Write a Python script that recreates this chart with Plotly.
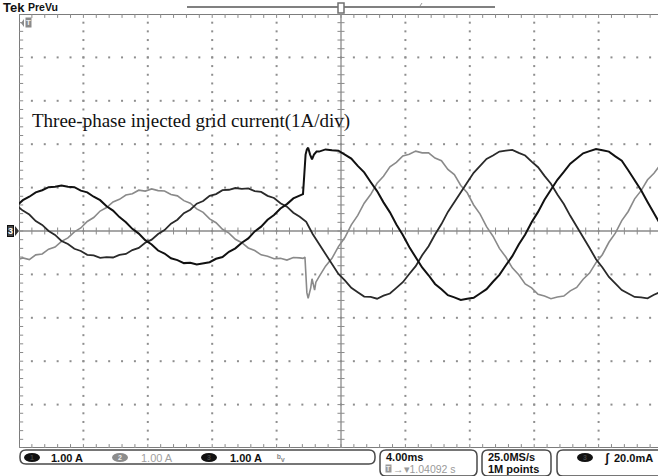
import numpy as np
import plotly.graph_objects as go

# ---------------- data (screen divisions: 1 div = 1 A vertically, 4 ms horizontally) ----------------
time_div = [-0.04, 0.06, 0.16, 0.26, 0.36, 0.46, 0.56, 0.66, 0.76, 0.86,
            0.96, 1.06, 1.16, 1.26, 1.36, 1.46, 1.56, 1.66, 1.76, 1.86,
            1.96, 2.06, 2.16, 2.26, 2.36, 2.46, 2.56, 2.66, 2.76, 2.86,
            2.96, 3.06, 3.16, 3.26, 3.36, 3.46, 3.56, 3.66, 3.76, 3.86,
            3.96, 4.06, 4.16, 4.26, 4.36, 4.46, 4.56, 4.66, 4.76, 4.86,
            4.96, 5.06, 5.16, 5.26, 5.36, 5.46, 5.56, 5.66, 5.76, 5.86,
            5.96, 6.06, 6.16, 6.26, 6.36, 6.46, 6.56, 6.66, 6.76, 6.86,
            6.96, 7.06, 7.16, 7.26, 7.36, 7.46, 7.56, 7.66, 7.76, 7.86,
            7.96, 8.06, 8.16, 8.26, 8.36, 8.46, 8.56, 8.66, 8.76, 8.86,
            8.96, 9.06, 9.16, 9.26, 9.36, 9.46, 9.56, 9.66, 9.76, 9.86,
            9.96]

# channel 1 (black): before step (samples 0..44), step transient, after step (samples 47..100)
ch1_pre = [0.58, 0.71, 0.79, 0.89, 0.94, 1.01, 1.02, 1.05, 1.02, 1.01,
           0.93, 0.89, 0.79, 0.71, 0.57, 0.47, 0.32, 0.20, 0.05, -0.06,
           -0.21, -0.31, -0.45, -0.52, -0.63, -0.67, -0.74, -0.73, -0.77, -0.74,
           -0.72, -0.64, -0.60, -0.48, -0.40, -0.27, -0.17, -0.01, 0.10, 0.26,
           0.37, 0.52, 0.62, 0.75, 0.82]
ch1_step_t = [4.41, 4.43, 4.45, 4.47, 4.49, 4.52, 4.55, 4.58, 4.62]
ch1_step_v = [0.85, 1.30, 1.76, 1.88, 1.92, 1.76, 1.65, 1.76, 1.83]
ch1_post = [1.83, 1.88, 1.86, 1.85, 1.76, 1.67, 1.50, 1.35, 1.13, 0.92,
            0.66, 0.43, 0.15, -0.09, -0.37, -0.59, -0.84, -1.02, -1.22, -1.34,
            -1.48, -1.53, -1.59, -1.56, -1.54, -1.44, -1.34, -1.17, -1.01, -0.79,
            -0.58, -0.31, -0.08, 0.20, 0.44, 0.72, 0.94, 1.18, 1.36, 1.55,
            1.67, 1.79, 1.84, 1.89, 1.86, 1.83, 1.72, 1.62, 1.40, 1.18,
            0.94, 0.67, 0.40, 0.15]

# channel 2 (grey)
ch2_pre = [-0.67, -0.62, -0.66, -0.55, -0.53, -0.42, -0.37, -0.24, -0.16, -0.02,
           0.07, 0.22, 0.31, 0.46, 0.54, 0.67, 0.73, 0.83, 0.86, 0.94,
           0.92, 0.97, 0.93, 0.92, 0.84, 0.81, 0.70, 0.64, 0.51, 0.43,
           0.28, 0.19, 0.04, -0.05, -0.19, -0.27, -0.39, -0.45, -0.55, -0.58,
           -0.64, -0.63, -0.67, -0.61, -0.62]
ch2_step_t = [4.41, 4.44, 4.45, 4.47, 4.49, 4.50, 4.53, 4.55, 4.57, 4.59, 4.61, 4.64]
ch2_step_v = [-0.63, -0.60, -0.92, -1.42, -1.55, -1.50, -1.31, -1.10, -1.28, -1.36, -1.18, -1.08]
ch2_post = [-1.05, -0.81, -0.63, -0.36, -0.15, 0.14, 0.36, 0.64, 0.84, 1.10,
            1.26, 1.48, 1.58, 1.73, 1.77, 1.84, 1.80, 1.80, 1.68, 1.62,
            1.42, 1.30, 1.05, 0.88, 0.60, 0.39, 0.10, -0.12, -0.40, -0.60,
            -0.85, -1.01, -1.22, -1.31, -1.46, -1.50, -1.56, -1.52, -1.50, -1.38,
            -1.30, -1.11, -0.97, -0.73, -0.54, -0.26, -0.05, 0.24, 0.45, 0.74,
            0.93, 1.18, 1.33, 1.53]

# channel 3 (dark): samples 0..44 before step, 45..100 after
ch3_pre = [0.59, 0.47, 0.38, 0.23, 0.14, 0.00, -0.09, -0.23, -0.30, -0.41,
           -0.46, -0.55, -0.56, -0.62, -0.60, -0.61, -0.55, -0.53, -0.44, -0.39,
           -0.27, -0.20, -0.07, 0.02, 0.17, 0.26, 0.41, 0.49, 0.63, 0.69,
           0.81, 0.85, 0.94, 0.95, 0.99, 0.97, 0.98, 0.92, 0.90, 0.81,
           0.76, 0.64, 0.56, 0.42, 0.33]
ch3_post = [0.21, -0.07, -0.30, -0.56, -0.76, -0.99, -1.14, -1.31, -1.41, -1.51,
            -1.52, -1.56, -1.49, -1.44, -1.31, -1.18, -0.99, -0.81, -0.56, -0.35,
            -0.08, 0.16, 0.44, 0.67, 0.92, 1.12, 1.34, 1.49, 1.66, 1.74,
            1.83, 1.85, 1.87, 1.80, 1.74, 1.60, 1.47, 1.27, 1.09, 0.84,
            0.62, 0.35, 0.11, -0.16, -0.39, -0.65, -0.84, -1.06, -1.20, -1.36,
            -1.44, -1.52, -1.53, -1.55, -1.47, -1.40]

title_text = "Three-phase injected grid current(1A/div)"
channel_scales = ["1.00 A", "1.00 A", "1.00 A"]
timebase_text = "4.00ms"
trigger_pos_text = "\u2192\u25be1.04092 s"
sample_rate_text = "25.0MS/s"
record_len_text = "1M points"
trigger_level_text = "20.0mA"

# ---------------- assemble series ----------------
ch1_t = time_div[:45] + ch1_step_t + time_div[47:]
ch1_v = ch1_pre + ch1_step_v + ch1_post
ch2_t = time_div[:45] + ch2_step_t + time_div[47:]
ch2_v = ch2_pre + ch2_step_v + ch2_post
ch3_t = time_div
ch3_v = ch3_pre + ch3_post

# ---------------- geometry (window pixels) ----------------
SW, SH = 658, 476
PL, PT, PR, PB = 19, 14, 658, 448   # plot area in window pixels
DIVX = 64.4
XMAX = (PR - PL) / DIVX
SANS = "Liberation Sans, Arial, sans-serif"
SERIF = "Liberation Serif, Times New Roman, serif"


def px(x):
    return (x - PL) / (PR - PL)


def py(y):
    return (PB - y) / (PB - PT)


fig = go.Figure()

# graticule dots
gx, gy = [], []
for yl in [-5, -4, -3, -2, -1, 1, 2, 3, 4]:
    for xv in np.arange(0, 10.001, 0.2):
        gx.append(xv)
        gy.append(yl)
for xl in [1, 2, 3, 4, 6, 7, 8, 9]:
    for yv in np.arange(-5, 5.001, 0.2):
        gx.append(xl)
        gy.append(yv)
fig.add_trace(go.Scatter(x=gx, y=gy, mode="markers", hoverinfo="skip",
                         marker=dict(size=2, color="#8e8e8e", symbol="square", line=dict(width=0))))

# tick marks on centre lines and border
tx, ty = [], []
for xv in np.arange(0, 10.001, 0.2):
    tx += [xv, xv, None]; ty += [-0.08, 0.08, None]          # centre horizontal
    tx += [xv, xv, None]; ty += [5, 4.91, None]              # top border
    tx += [xv, xv, None]; ty += [-5, -4.91, None]            # bottom border
for yv in np.arange(-5, 5.001, 0.2):
    tx += [4.945, 5.055, None]; ty += [yv, yv, None]         # centre vertical
    tx += [0, 0.065, None]; ty += [yv, yv, None]             # left border
fig.add_trace(go.Scatter(x=tx, y=ty, mode="lines", hoverinfo="skip",
                         line=dict(color="#8a8a8a", width=1)))

# waveforms
fig.add_trace(go.Scatter(x=ch2_t, y=ch2_v, mode="lines", name="CH2",
                         line=dict(color="#8a8a8a", width=1.6)))
fig.add_trace(go.Scatter(x=ch3_t, y=ch3_v, mode="lines", name="CH3",
                         line=dict(color="#2a2a2a", width=1.8)))
fig.add_trace(go.Scatter(x=ch1_t, y=ch1_v, mode="lines", name="CH1",
                         line=dict(color="#111111", width=2)))

shapes = []
grey = "#7c7c7c"
# border and centre lines
shapes.append(dict(type="line", xref="x", yref="y", x0=0, x1=10, y0=5, y1=5, line=dict(color=grey, width=2), layer="below"))
shapes.append(dict(type="line", xref="x", yref="y", x0=0, x1=10, y0=-5, y1=-5, line=dict(color=grey, width=2), layer="below"))
shapes.append(dict(type="line", xref="x", yref="y", x0=0, x1=0, y0=-5, y1=5, line=dict(color=grey, width=2), layer="below"))
shapes.append(dict(type="line", xref="x", yref="y", x0=0, x1=10, y0=0, y1=0, line=dict(color="#8a8a8a", width=1.3), layer="below"))
shapes.append(dict(type="line", xref="x", yref="y", x0=5, x1=5, y0=-5, y1=5, line=dict(color="#8a8a8a", width=1.3), layer="below"))

# header record bar
shapes.append(dict(type="line", xref="paper", yref="paper", x0=px(187), x1=px(495), y0=py(7), y1=py(7),
                   line=dict(color="#808080", width=2)))
shapes.append(dict(type="rect", xref="paper", yref="paper", x0=px(338), x1=px(344), y0=py(3), y1=py(13),
                   line=dict(color="#707070", width=1.5), fillcolor="white"))
shapes.append(dict(type="line", xref="paper", yref="paper", x0=px(420), x1=px(422), y0=py(6), y1=py(3),
                   line=dict(color="#9a9a9a", width=1)))


def rrect(x0, y0, x1, y1, r):
    X, Y = px, py
    return (f"M {X(x0 + r)},{Y(y0)} L {X(x1 - r)},{Y(y0)} Q {X(x1)},{Y(y0)} {X(x1)},{Y(y0 + r)} "
            f"L {X(x1)},{Y(y1 - r)} Q {X(x1)},{Y(y1)} {X(x1 - r)},{Y(y1)} L {X(x0 + r)},{Y(y1)} "
            f"Q {X(x0)},{Y(y1)} {X(x0)},{Y(y1 - r)} L {X(x0)},{Y(y0 + r)} Q {X(x0)},{Y(y0)} {X(x0 + r)},{Y(y0)} Z")


for (a, b, c, d) in [(20, 450, 375, 464), (380, 450, 477, 476), (482, 450, 551, 476), (557, 450, 664, 476)]:
    shapes.append(dict(type="path", xref="paper", yref="paper", path=rrect(a, b, c, d, 6),
                       line=dict(color="#4a4a4a", width=1.5)))

# channel badges
for (a, c, col) in [(24, 40, "#111111"), (112, 128, "#8c8c8c"), (201, 217, "#111111"), (577, 593, "#111111")]:
    shapes.append(dict(type="circle", xref="paper", yref="paper", x0=px(a), x1=px(c), y0=py(453), y1=py(462),
                       fillcolor=col, line=dict(color=col, width=0)))

# trigger "T" icon tip and channel-3 ground arrow
shapes.append(dict(type="path", xref="paper", yref="paper",
                   path=f"M {px(21)},{py(23)} L {px(24)},{py(19)} L {px(24)},{py(27)} Z",
                   fillcolor="#8a8a8a", line=dict(width=0)))
shapes.append(dict(type="path", xref="paper", yref="paper",
                   path=f"M {px(19)},{py(231)} L {px(15)},{py(226)} L {px(15)},{py(236)} Z",
                   fillcolor="#333333", line=dict(width=0)))


def ann(text, x, y, size=11, color="#111111", bold=True, family=SANS, xanchor="left", bg=None, border=None):
    d = dict(text=f"<b>{text}</b>" if bold else text, x=px(x), y=py(y), xref="paper", yref="paper",
             xanchor=xanchor, yanchor="middle", showarrow=False,
             font=dict(size=size, color=color, family=family), borderpad=0)
    if bg:
        d["bgcolor"] = bg
    if border:
        d["bordercolor"] = border
        d["borderwidth"] = 1
    return d


annotations = [
    ann("Tek", 2, 8, size=13, color="#111111"),
    ann("PreVu", 27, 7, size=10.5, color="#111111"),
    ann(title_text, 31, 121, size=19, color="#111111", bold=False, family=SERIF),
    ann("T", 28, 23, size=8, color="#eeeeee", xanchor="center", bg="#8a8a8a"),
    ann("3", 10, 231, size=9, color="#ffffff", xanchor="center", bg="#444444", border="#111111"),
    ann("1", 32, 457.5, size=7, color="#444444", xanchor="center"),
    ann(channel_scales[0], 50, 457.5, size=11, color="#111111"),
    ann("2", 120, 457.5, size=7, color="#f0f0f0", xanchor="center"),
    ann(channel_scales[1], 140, 457.5, size=11, color="#a0a0a0", bold=False),
    ann("3", 209, 457.5, size=7, color="#444444", xanchor="center"),
    ann(channel_scales[2], 229, 457.5, size=11, color="#111111"),
    ann("ᵇᵥ", 276, 457, size=10, color="#888888"),
    ann(timebase_text, 385, 457, size=11, color="#111111"),
    ann("T", 388, 468.5, size=7, color="#f0f0f0", xanchor="center", bg="#9a9a9a"),
    ann(trigger_pos_text, 392, 468.5, size=10.5, color="#9a9a9a", bold=False),
    ann(sample_rate_text, 487, 457, size=11, color="#111111"),
    ann(record_len_text, 487, 469, size=11, color="#111111"),
    ann("3", 585, 457.5, size=7, color="#444444", xanchor="center"),
    ann("ʃ", 603, 457.5, size=12, color="#111111"),
    ann(trigger_level_text, 613, 457.5, size=11, color="#111111"),
]

fig.update_layout(
    width=SW, height=SH,
    margin=dict(l=PL, r=SW - PR, t=PT, b=SH - PB, pad=0),
    paper_bgcolor="white", plot_bgcolor="white",
    showlegend=False,
    xaxis=dict(range=[0, XMAX], showgrid=False, zeroline=False, showticklabels=False,
               ticks="", showline=False, fixedrange=True),
    yaxis=dict(range=[-5, 5], showgrid=False, zeroline=False, showticklabels=False,
               ticks="", showline=False, fixedrange=True),
    shapes=shapes,
    annotations=annotations,
)

# remove the browser's default 8px page margin so the figure fills the window exactly
fig.write_html("out.html", config={"displayModeBar": False},
               post_script="document.body.style.margin='0px';")
